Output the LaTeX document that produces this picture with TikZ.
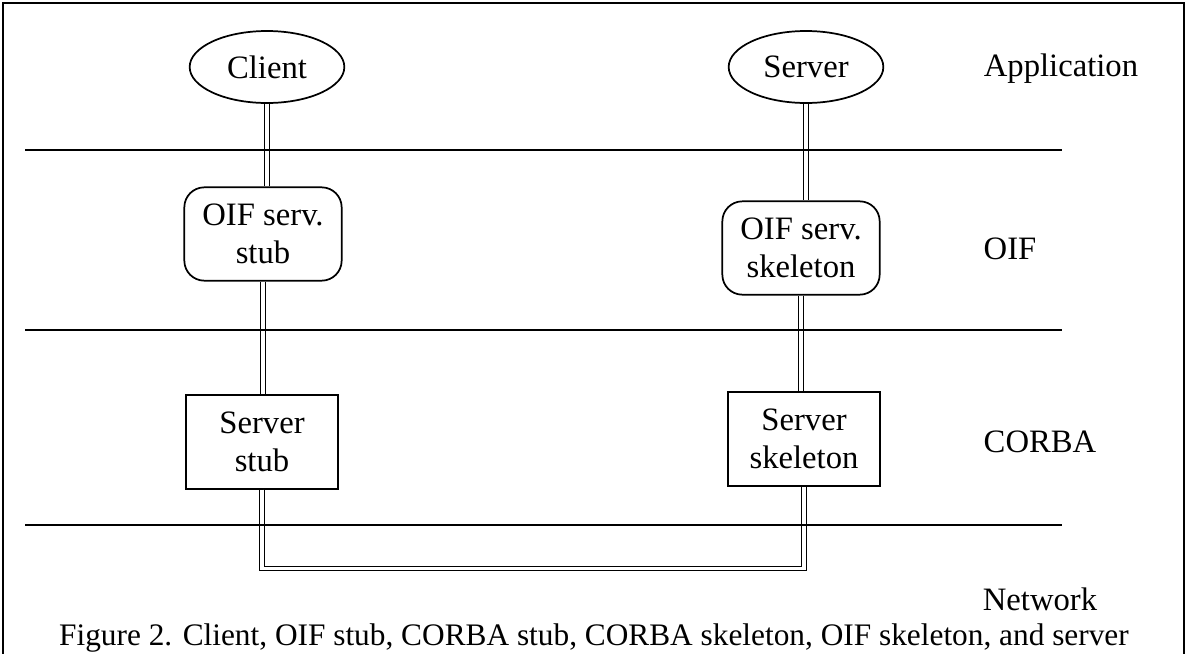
\documentclass[tikz,border=0pt]{standalone}
\usepackage{fontspec}
\setmainfont{Liberation Serif}
\usetikzlibrary{shapes.geometric,positioning,calc}

\begin{document}
\begin{tikzpicture}[
    x=0.75pt, y=-0.75pt,
    txt/.style={font=\fontsize{24.5}{28.5}\selectfont, align=center},
    appnode/.style={draw, ellipse, line width=1.3pt, minimum width=116pt, minimum height=54pt, inner sep=1pt, txt},
    oifbox/.style={draw, rectangle, rounded corners=15pt, line width=1.3pt, minimum width=118pt, minimum height=70pt, inner sep=1pt, txt},
    corbabox/.style={draw, rectangle, line width=1.3pt, minimum width=114pt, minimum height=70pt, inner sep=1pt, txt},
    link/.style={double, double distance=2.4pt, line width=1pt},
    layerline/.style={line width=1.4pt},
    label/.style={font=\fontsize{24.5}{28.5}\selectfont, inner sep=0pt},
]
\useasboundingbox (0,0) rectangle (1187,653);

% Frame
\draw[line width=1.2pt] (3,660) -- (3,3) -- (1184,3) -- (1184,660);

% Application layer
\node[appnode] (client) at (267,67) {Client};
\node[appnode] (server) at (806,67) {Server};

% OIF layer
\node[oifbox] (oifstub) at (263,234) {OIF serv.\\stub};
\node[oifbox] (oifskel) at (801,248) {OIF serv.\\skeleton};

% CORBA layer
\node[corbabox] (corbastub) at (262,442) {Server\\stub};
\node[corbabox] (corbaskel) at (804,439) {Server\\skeleton};

% Links between the layers
\draw[link] (client.south) -- (client.south |- oifstub.north);
\draw[link] (server.south) -- (server.south |- oifskel.north);
\draw[link] (oifstub.south) -- (oifstub.south |- corbastub.north);
\draw[link] (oifskel.south) -- (oifskel.south |- corbaskel.north);
\coordinate (netleft) at ($(corbastub.south)+(0,79)$);
\draw[link] (corbastub.south) -- (netleft) -| (corbaskel.south);

% Layer borders
\draw[layerline] (25,150) -- (1062,150);
\draw[layerline] (25,330) -- (1062,330);
\draw[layerline] (25,525) -- (1062,525);

% Layer names
\node[label] (lapp) at (1061,69) {Application};
\node[label] (loif) at (1010,249) {OIF};
\node[label] (lcorba) at (1040,442) {CORBA};
\node[label] (lnet) at (1040,599) {Network};

% Caption
\node[label, font=\fontsize{23.5}{28}\selectfont] (caption) at (594,638) {Figure 2. Client, OIF stub, CORBA stub, CORBA skeleton, OIF skeleton, and server};

\end{tikzpicture}
\end{document}
